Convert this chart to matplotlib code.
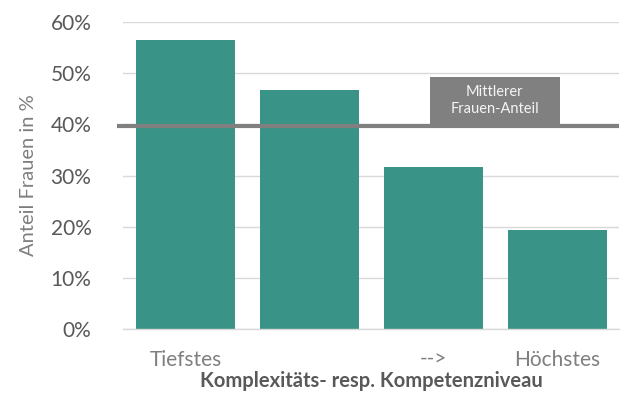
import matplotlib
matplotlib.use("Agg")
import matplotlib.pyplot as plt
from matplotlib.patches import Rectangle

plt.rcParams['font.family'] = ['Lato', 'DejaVu Sans']

categories = ["Tiefstes", "", "-->", "Höchstes"]
values = [56.5, 46.8, 31.6, 19.3]
mean_share = 39.6
yticks = [0, 10, 20, 30, 40, 50, 60]

fig = plt.figure(figsize=(6.2, 4.0), dpi=100)
ax = fig.add_axes([0.199, 0.1775, 0.8, 0.7675])

x = list(range(len(categories)))
ax.bar(x, values, width=0.8, color="#3a9387", zorder=2)
ax.set_xlim(-0.5, 3.5)
ax.set_ylim(0, 60)
ax.set_yticks(yticks)
ax.set_yticklabels([f"{t}%" for t in yticks], fontsize=15, color="#595959")
ax.set_xticks(x)
ax.set_xticklabels(categories, fontsize=15, color="#7f7f7f")
ax.tick_params(axis='both', length=0)
ax.tick_params(axis='y', pad=23)
ax.tick_params(axis='x', pad=15)
ax.grid(axis='y', color="#d9d9d9", linewidth=1, zorder=0)
for s in ['top', 'right', 'left']:
    ax.spines[s].set_visible(False)
ax.spines['bottom'].set_color("#d9d9d9")
ax.spines['bottom'].set_linewidth(1)

ax.plot([-0.55, 3.5], [mean_share, mean_share], color="#808080", linewidth=3,
        clip_on=False, zorder=3, solid_capstyle='butt')

ax.add_patch(Rectangle((1.97, mean_share), 1.05, 9.6, facecolor="#808080",
                       edgecolor="none", zorder=3))
ax.text(2.495, mean_share + 5.0, "Mittlerer\nFrauen-Anteil", ha='center', va='center',
        color="#f5f5f5", fontsize=10.5, zorder=4, linespacing=1.3)

ax.set_ylabel("Anteil Frauen in %", fontsize=14.5, color="#7f7f7f", labelpad=10)
ax.set_xlabel("Komplexitäts- resp. Kompetenzniveau", fontsize=14.5, color="#595959",
              fontweight='bold', labelpad=1)

fig.savefig("out.png", dpi=100)
